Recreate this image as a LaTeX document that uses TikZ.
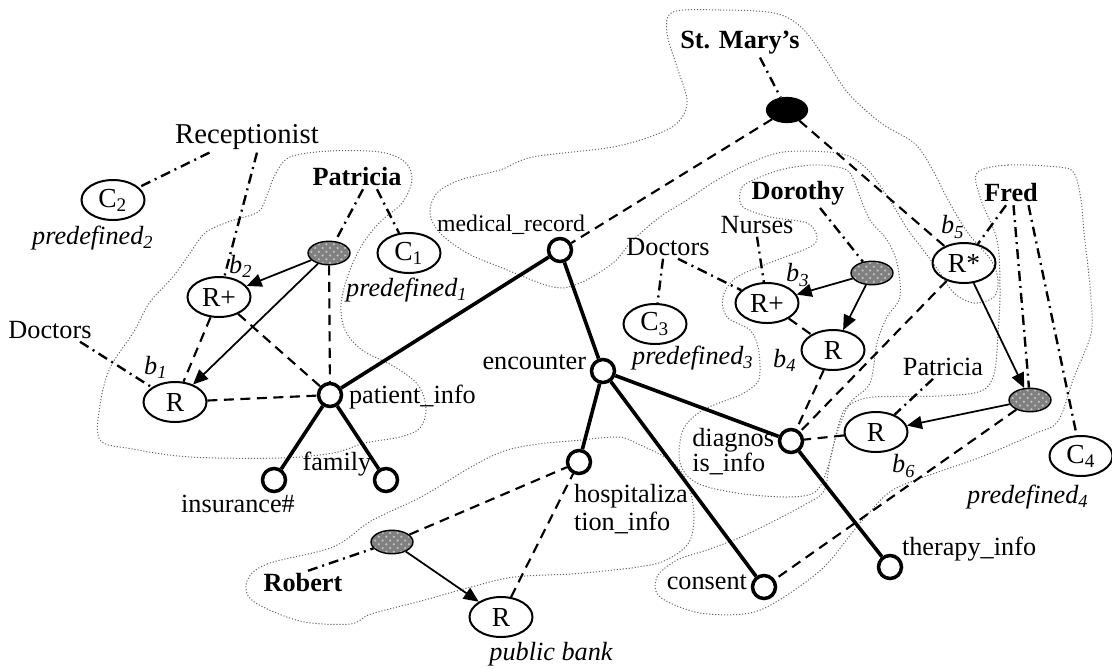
\documentclass[tikz,border=0pt]{standalone}
\usepackage{fontspec}
\setmainfont{Liberation Serif}
\usetikzlibrary{shapes.geometric,arrows.meta,patterns}
\begin{document}
\begin{tikzpicture}[x=0.4pt,y=-0.4pt,
  font=\fontsize{10.5}{11}\selectfont,
  role/.style={ellipse, draw, line width=0.8pt, minimum width=25.2pt, minimum height=16pt, inner sep=0pt, font=\fontsize{11}{11}\selectfont},
  grp/.style={ellipse, draw, line width=0.55pt, preaction={fill=black!50}, pattern=crosshatch dots, pattern color=black!25, minimum width=16.8pt, minimum height=9.4pt, inner sep=0pt},
  org/.style={ellipse, draw, line width=0.5pt, fill=black, minimum width=16.4pt, minimum height=10pt, inner sep=0pt},
  obj/.style={circle, draw, line width=1.4pt, minimum size=9.2pt, inner sep=0pt, fill=white},
  lbl/.style={inner sep=1pt},
  who/.style={inner sep=1pt, font=\fontsize{10.5}{11}\selectfont\bfseries},
  tag/.style={inner sep=1pt, font=\fontsize{10.5}{11}\selectfont\itshape},
  tree/.style={line width=1.45pt},
  dsh/.style={line width=0.85pt, dash pattern=on 4pt off 2.6pt},
  ddot/.style={line width=0.95pt, dash pattern=on 4pt off 2pt on 0.8pt off 2pt},
  arr/.style={line width=0.7pt, -{Triangle[length=6pt,width=5.2pt]}},
  zone/.style={line width=0.4pt, draw=black!60, dash pattern=on 0.45pt off 0.75pt}
]
\useasboundingbox (0,0) rectangle (1112,668);

% dotted zones
\draw[zone] plot[smooth cycle, tension=0.55] coordinates {
  (290,157) (330,151) (380,152) (405,162) (412,180) (402,203) (380,222) (362,245)
  (348,275) (341,305) (345,330) (362,350) (395,367) (418,385) (426,408) (420,428)
  (400,437) (365,443) (333,453) (280,458) (190,457) (133,449) (100,440) (100,405)
  (110,368) (133,333) (150,302) (172,278) (188,256) (205,233) (228,222) (258,212)
  (267,195) (275,175)};
\draw[zone] plot[smooth cycle, tension=0.55] coordinates {
  (673,12) (720,10) (774,13) (801,27) (824,57) (848,93) (881,123) (914,143)
  (931,167) (948,200) (968,233) (991,260) (998,280) (994,297) (974,303) (954,293)
  (938,270) (921,247) (908,230) (894,207) (881,187) (868,170) (851,157) (828,152)
  (783,152) (750,163) (717,180) (687,200) (660,217) (633,240) (613,263) (580,283)
  (553,287) (500,267) (467,253) (440,233) (430,213) (437,193) (460,180) (500,170)
  (533,157) (613,147) (660,133) (680,120) (687,100) (677,67) (667,33)};
\draw[zone] plot[smooth cycle, tension=0.55] coordinates {
  (747,183) (780,170) (813,165) (837,167) (850,173) (860,197) (870,220) (887,240)
  (897,263) (900,297) (887,317) (877,343) (870,383) (850,403) (837,433) (827,470)
  (815,492) (787,497) (737,493) (697,483) (680,463) (683,430) (703,410) (740,395)
  (757,383) (760,370) (758,347) (750,330) (727,317) (723,297) (737,277) (777,260)
  (810,247) (817,237) (807,223) (770,217) (743,207) (740,193)};
\draw[zone] plot[smooth cycle, tension=0.55] coordinates {
  (977,173) (1008,165) (1058,167) (1074,173) (1081,200) (1084,233) (1088,267)
  (1091,300) (1091,334) (1074,377) (1058,421) (1034,434) (981,457) (924,477)
  (891,491) (868,514) (851,534) (824,567) (784,597) (750,613) (700,613) (660,597)
  (657,577) (677,560) (707,550) (741,537) (774,521) (804,505) (824,491) (830,460)
  (841,417) (851,404) (874,397) (941,396) (981,391) (994,374) (998,334) (1000,290)
  (997,240) (981,200)};
\draw[zone] plot[smooth cycle, tension=0.55] coordinates {
  (247,581) (267,564) (333,547) (371,521) (421,497) (471,467) (504,451) (538,444)
  (571,441) (618,437) (638,444) (671,461) (688,484) (694,517) (688,544) (664,561)
  (638,567) (604,571) (571,574) (514,577) (471,587) (421,601) (371,614) (350,624)
  (300,621) (253,601)};

% document tree
\node[obj] (medrec) at (560,250) {};
\node[lbl, font=\fontsize{9.5}{10}\selectfont] (medrecL) at (511,225) {medical\_record};
\node[obj] (pinfo) at (330,395) {};
\node[lbl, anchor=west] (pinfoL) at (346,397) {patient\_info};
\node[obj] (ins) at (274,480) {};
\node[lbl] (insL) at (238,504) {insurance\#};
\node[obj] (fam) at (386,480) {};
\node[lbl] (famL) at (337,464) {family};
\node[obj] (enc) at (603,371) {};
\node[lbl, anchor=east] (encL) at (589,362) {encounter};
\node[obj] (hosp) at (579,462) {};
\node[lbl, anchor=north west, align=left, font=\fontsize{10.5}{11.2}\selectfont] (hospL) at (571,481) {hospitaliza\\tion\_info};
\node[obj] (diag) at (791,441) {};
\node[lbl, anchor=east, align=left, font=\fontsize{10.5}{10}\selectfont] (diagL) at (777,452) {diagnos\\is\_info};
\node[obj] (cons) at (764,587) {};
\node[lbl, anchor=east] (consL) at (750,582) {consent};
\node[obj] (ther) at (890,567) {};
\node[lbl, anchor=west] (therL) at (899,549) {therapy\_info};

% subjects, groups and roles
\node[lbl, font=\fontsize{11.5}{12}\selectfont] (rec) at (247,137) {Receptionist};
\node[role] (C2) at (113,200) {C\textsubscript{2}};
\node[tag] (pre2) at (93,238) {predefined\textsubscript{2}};
\node[who] (patL) at (357,177) {Patricia};
\node[grp] (patE) at (329,253) {};
\node[role] (C1) at (409,253) {C\textsubscript{1}};
\node[tag] (pre1) at (407,290) {predefined\textsubscript{1}};
\node[role] (b2R) at (219,297) {R+};
\node[tag] (b2L) at (241,266) {b\textsubscript{2}};
\node[lbl] (docL) at (50,330) {Doctors};
\node[tag] (b1L) at (156,367) {b\textsubscript{1}};
\node[role] (b1R) at (175,402) {R};

\node[who] (stm) at (740,43) {St. Mary's};
\node[org] (smE) at (787,110) {};

\node[grp] (robE) at (392,542) {};
\node[who] (robL) at (303,583) {Robert};
\node[role] (rpub) at (501,617) {R};
\node[tag] (pubL) at (551,654) {public bank};

\node[lbl] (docM) at (668,247) {Doctors};
\node[role] (C3) at (655,324) {C\textsubscript{3}};
\node[tag] (pre3) at (693,358) {predefined\textsubscript{3}};
\node[who] (dorL) at (798,193) {Dorothy};
\node[lbl] (nur) at (757,225) {Nurses};
\node[grp] (dorE) at (872,273) {};
\node[role] (b3R) at (767,303) {R+};
\node[tag] (b3L) at (798,275) {b\textsubscript{3}};
\node[role] (b4R) at (833,350) {R};
\node[tag] (b4L) at (785,360) {b\textsubscript{4}};

\node[who] (fredL) at (1011,193) {Fred};
\node[role] (b5R) at (964,263) {R*};
\node[tag] (b5L) at (953,227) {b\textsubscript{5}};
\node[grp] (fredE) at (1030,400) {};
\node[role] (C4) at (1081,456) {C\textsubscript{4}};
\node[tag] (pre4) at (1028,497) {predefined\textsubscript{4}};
\node[lbl] (patR) at (943,367) {Patricia};
\node[role] (b6R) at (876,432) {R};
\node[tag] (b6L) at (904,466) {b\textsubscript{6}};

% tree edges
\draw[tree] (medrec) -- (pinfo);
\draw[tree] (medrec) -- (enc);
\draw[tree] (pinfo) -- (ins);
\draw[tree] (pinfo) -- (fam);
\draw[tree] (enc) -- (hosp);
\draw[tree] (enc) -- (diag);
\draw[tree] (enc) -- (cons);
\draw[tree] (diag) -- (ther);

% authorisation links
\draw[dsh] (smE) -- (medrec);
\draw[dsh] (smE) -- (b5R);
\draw[dsh] (b2R) -- (b1R);
\draw[dsh] (b2R) -- (pinfo);
\draw[dsh] (patE) -- (pinfo);
\draw[dsh] (b1R) -- (pinfo);
\draw[dsh] (robE) -- (hosp);
\draw[dsh] (rpub) -- (hosp);
\draw[dsh] (b3R) -- (b4R);
\draw[dsh] (b4R) -- (diag);
\draw[dsh] (b5R) -- (diag);
\draw[dsh] (b6R) -- (diag);
\draw[dsh] (fredE) -- (cons);

% membership links
\draw[ddot] ([xshift=-15pt]rec.south) -- (C2);
\draw[ddot] ([xshift=4pt]rec.south) -- (b2R);
\draw[ddot] ([xshift=2.4pt]patL.south) -- (patE);
\draw[ddot] ([xshift=8pt]patL.south) -- (C1);
\draw[ddot] ([xshift=12pt]docL.south) -- (b1R);
\draw[ddot] ([xshift=8pt]stm.south) -- (smE);
\draw[ddot] ([xshift=2pt]robL.north) -- (robE);
\draw[ddot] ([xshift=-2pt]docM.south) -- (C3);
\draw[ddot] ([xshift=4pt]docM.south) -- (b3R);
\draw[ddot] (nur.south) -- (b3R);
\draw[ddot] ([xshift=8.8pt]dorL.south) -- (dorE);
\draw[ddot] ([xshift=-2pt]fredL.south) -- (b5R);
\draw[ddot] ([xshift=1pt]fredL.south) -- (fredE);
\draw[ddot] ([xshift=7pt]fredL.south) -- (C4);
\draw[ddot] ([xshift=-4pt]patR.south) -- (b6R);

% delegation arrows
\draw[arr] (patE) -- (b2R);
\draw[arr] (patE) -- (b1R);
\draw[arr] (robE) -- (rpub);
\draw[arr] (dorE) -- (b3R);
\draw[arr] (dorE) -- (b4R);
\draw[arr] (b5R) -- (fredE);
\draw[arr] (fredE) -- (b6R);
\end{tikzpicture}
\end{document}
